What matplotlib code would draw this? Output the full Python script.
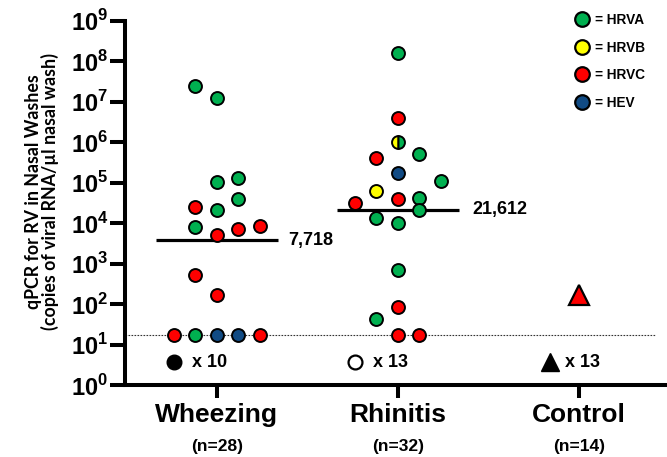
import numpy as np
import matplotlib
matplotlib.use('Agg')
import matplotlib.pyplot as plt
from matplotlib.lines import Line2D
import matplotlib.transforms as mtransforms

# ---------------- data ----------------
categories = ['Wheezing', 'Rhinitis', 'Control']
n_labels = ['(n=28)', '(n=32)', '(n=14)']

wheeze_values = [2.4e7, 1.26e7, 1.3e5, 1.05e5, 3.9e4, 2.5e4, 2.1e4, 8.5e3, 8.1e3,
                 7.2e3, 5.1e3, 520, 170, 17.5, 17.5, 17.5, 17.5, 17.5]
wheeze_types = ['A', 'A', 'A', 'A', 'A', 'C', 'A', 'C', 'A',
                'C', 'C', 'C', 'C', 'C', 'A', 'EV', 'EV', 'C']

rhin_values = [1.6e8, 3.9e6, 9.8e5, 5.1e5, 4.0e5, 1.7e5, 1.1e5, 6.3e4, 4.1e4, 3.9e4,
               3.2e4, 2.1e4, 1.3e4, 1.0e4, 680, 83, 43, 17.5, 17.5]
rhin_types = ['A', 'C', 'B/A', 'A', 'C', 'EV', 'A', 'B', 'A', 'C',
              'C', 'A', 'A', 'A', 'A', 'C', 'A', 'C', 'C']

control_values = [170]
control_types = ['C']

median_values = [3.8e3, 21612]
median_labels = ['7,718', '21,612']
negative_labels = ['x 10', 'x 13', 'x 13']
threshold = 17.5
threshold_label = '17.5'

legend_types = ['A', 'B', 'C', 'EV']
legend_labels = ['= HRVA', '= HRVB', '= HRVC', '= HEV']

# ---------------- layout (beeswarm columns) ----------------
wheeze_cols = [-1, 0, 1, 0, 1, -1, 0, 2, -1, 1, 0, -1, 0, -2, -1, 0, 1, 2]
rhin_cols = [0, 0, 0, 1, -1, 0, 2, -1, 1, 0, -2, 1, -1, 0, 0, 0, -1, 0, 1]
col_step = 0.119

colors = {'A': '#00B050', 'B': '#FFFF00', 'C': '#FF0000', 'EV': '#114B84'}

plt.rcParams['font.family'] = ['Liberation Sans', 'DejaVu Sans']
plt.rcParams['mathtext.fontset'] = 'custom'
plt.rcParams['mathtext.rm'] = 'Liberation Sans'
plt.rcParams['mathtext.bf'] = 'Liberation Sans:bold'

W, H = 667, 457
fig = plt.figure(figsize=(W / 100, H / 100), dpi=100)
ax = fig.add_axes([125 / W, 1 - 385 / H, 1 - 125 / W, (385 - 20.7) / H])

ax.set_yscale('log')
ax.set_ylim(1, 1e9)
ax.set_xlim(0.494, 3.486)

for s in ['top', 'right']:
    ax.spines[s].set_visible(False)
for s in ['left', 'bottom']:
    ax.spines[s].set_linewidth(2.9)

yt = [10.0 ** k for k in range(10)]
ax.set_yticks(yt)
ax.set_yticklabels([r'$\mathbf{10}^{\mathbf{%d}}$' % k for k in range(10)], fontsize=17)
ax.yaxis.set_minor_locator(matplotlib.ticker.NullLocator())
ax.tick_params(axis='y', direction='out', length=11, width=2.9, pad=1)

ax.set_xticks([1, 2, 3])
ax.set_xticklabels(categories, fontsize=19, fontweight='bold')
ax.tick_params(axis='x', direction='out', length=9, width=2.9, pad=4)

trans = mtransforms.blended_transform_factory(ax.transData, ax.transAxes)
for i, lab in enumerate(n_labels):
    ax.text(i + 1, -0.170, lab, transform=trans, ha='center', va='center',
            fontsize=12.5, fontweight='bold')

# threshold
ax.axhline(threshold, xmin=0, xmax=0.978, color='#333333', lw=0.8, ls=(0, (1.5, 1.2)), zorder=1)
ax.text(-0.004, threshold * 1.08, threshold_label, transform=trans, ha='right', va='bottom',
        fontsize=5, style='italic', color='#333333')

ms, mew = 9.3, 1.4


def draw_dot(x, v, t):
    if t == 'B/A':
        ax.plot(x, v, 'o', ms=ms, mec='black', mew=mew, mfc=colors['B'],
                markerfacecoloralt=colors['A'], fillstyle='left', zorder=4)
    else:
        ax.plot(x, v, 'o', ms=ms, mec='black', mew=mew, mfc=colors[t], zorder=4)


for v, t, c in zip(wheeze_values, wheeze_types, wheeze_cols):
    draw_dot(1 + c * col_step, v, t)
for v, t, c in zip(rhin_values, rhin_types, rhin_cols):
    draw_dot(2 + c * col_step, v, t)
for v, t in zip(control_values, control_types):
    ax.plot(3, v, '^', ms=15, mec='black', mew=1.6, mfc=colors[t], zorder=4)

# medians
for i, (m, lab) in enumerate(zip(median_values, median_labels)):
    ax.plot([i + 1 - 0.336, i + 1 + 0.336], [m, m], color='black', lw=2.3, zorder=3,
            solid_capstyle='butt')
    ax.text(i + 1.395 + (0.014 if i == 1 else 0), m, lab, ha='left', va='center',
            fontsize=13, fontweight='bold')

# negatives keys
neg_y = 0.063
ax.plot(0.762, neg_y, 'o', transform=trans, ms=10.5, mfc='black', mec='black', clip_on=False)
ax.plot(1.764, neg_y, 'o', transform=trans, ms=10, mfc='white', mec='black', mew=1.6, clip_on=False)
ax.plot(2.84, neg_y, '^', transform=trans, ms=13, mfc='black', mec='black', clip_on=False)
for x0, lab in zip([0.862, 1.864, 2.922], negative_labels):
    ax.text(x0, neg_y, lab, transform=trans, ha='left', va='center', fontsize=13,
            fontweight='bold')

# y label
fig.text(42 / W, 1 - 192 / H, 'qPCR for RV in Nasal Washes\n(copies of viral RNA/µl nasal wash)',
         rotation=90, ha='center', va='center', multialignment='center', fontsize=12.8,
         fontweight='bold', family=['Lato', 'DejaVu Sans'], linespacing=0.95)

# legend
handles = [Line2D([], [], ls='', marker='o', ms=10.5, mfc=colors[t], mec='black', mew=1.6)
           for t in legend_types]
leg = fig.legend(handles, legend_labels, loc='upper left',
                 bbox_to_anchor=(575.5 / W, 1 - 13 / H), frameon=False,
                 prop={'weight': 'bold', 'size': 9.8}, handlelength=1.0,
                 handletextpad=0.4, labelspacing=1.0, borderpad=0, borderaxespad=0)

fig.savefig('out.png', dpi=100)
